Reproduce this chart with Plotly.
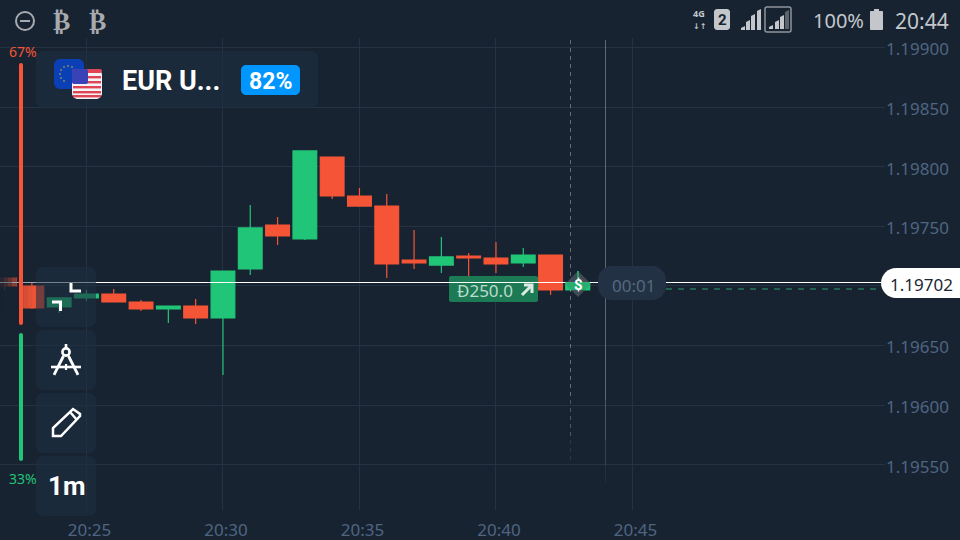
import plotly.graph_objects as go

# ---------- data ----------
times = ["20:22","20:23","20:24","20:25","20:26","20:27","20:28","20:29","20:30","20:31","20:32",
         "20:33","20:34","20:35","20:36","20:37","20:38","20:39","20:40","20:41","20:42","20:43"]
opens  = [1.197066,1.196999,1.196823,1.196899,1.196932,1.196865,1.196806,1.196831,1.196731,1.197142,1.197511,
          1.197394,1.198081,1.197754,1.197670,1.197217,1.197175,1.197251,1.197234,1.197192,1.197259,1.196966]
highs  = [1.197066,1.197025,1.196823,1.196966,1.196974,1.196882,1.196806,1.196890,1.197125,1.197679,1.197578,
          1.198132,1.198081,1.197821,1.197771,1.197469,1.197410,1.197276,1.197368,1.197318,1.197259,1.197125]
lows   = [1.196966,1.196806,1.196773,1.196873,1.196865,1.196790,1.196689,1.196680,1.196253,1.197091,1.197343,
          1.197385,1.197729,1.197670,1.197066,1.197142,1.197108,1.197050,1.197108,1.197159,1.196924,1.196950]
closes = [1.196999,1.196815,1.196899,1.196932,1.196865,1.196806,1.196831,1.196731,1.197125,1.197486,1.197419,
          1.198132,1.197754,1.197670,1.197184,1.197192,1.197243,1.197234,1.197184,1.197259,1.196966,1.197025]
price_ticks = [1.19900,1.19850,1.19800,1.19750,1.19700,1.19650,1.19600,1.19550]
time_ticks = ["20:25","20:30","20:35","20:40","20:45"]
current_price = 1.19702
sentiment = ["67%","33%"]

# ---------- style ----------
BG="#182331"; GRID="#243241"; PANEL="rgba(30,46,65,0.6)"
RED="#f55536"; GREEN="#20c577"; AXIS="#4f6582"; WHITE="#ffffff"; STATUS="#c3c7cc"; ICON="#a6aaaf"
PW=885; T=38; B=510; DATE="2021-01-01 "
def X(x): return x/PW
def Y(y): return (B-y)/(B-T)
def P(*pts, close=False):
    s="M "+" L ".join(f"{X(a):.5f} {Y(b):.5f}" for a,b in pts)
    return s+(" Z" if close else "")
shapes=[]; notes=[]
def rect(x0,y0,x1,y1,fill,r=0,outline=None,ow=0):
    ln=dict(color=outline or "rgba(0,0,0,0)",width=ow)
    if r:
        k=r*0.45
        d=(f"M {X(x0+r):.5f} {Y(y0):.5f} L {X(x1-r):.5f} {Y(y0):.5f} "
           f"C {X(x1-k):.5f} {Y(y0):.5f} {X(x1):.5f} {Y(y0+k):.5f} {X(x1):.5f} {Y(y0+r):.5f} "
           f"L {X(x1):.5f} {Y(y1-r):.5f} C {X(x1):.5f} {Y(y1-k):.5f} {X(x1-k):.5f} {Y(y1):.5f} {X(x1-r):.5f} {Y(y1):.5f} "
           f"L {X(x0+r):.5f} {Y(y1):.5f} C {X(x0+k):.5f} {Y(y1):.5f} {X(x0):.5f} {Y(y1-k):.5f} {X(x0):.5f} {Y(y1-r):.5f} "
           f"L {X(x0):.5f} {Y(y0+r):.5f} C {X(x0):.5f} {Y(y0+k):.5f} {X(x0+k):.5f} {Y(y0):.5f} {X(x0+r):.5f} {Y(y0):.5f} Z")
        shapes.append(dict(type="path",path=d,xref="paper",yref="paper",fillcolor=fill,line=ln))
    else:
        shapes.append(dict(type="rect",x0=X(x0),x1=X(x1),y0=Y(y0),y1=Y(y1),xref="paper",yref="paper",fillcolor=fill,line=ln))
def line(pts,color,w=1,dash=None,fill=None,close=False):
    shapes.append(dict(type="path",path=P(*pts,close=close),xref="paper",yref="paper",
                       line=dict(color=color,width=w,dash=dash or "solid"),fillcolor=fill or "rgba(0,0,0,0)"))
def circ(cx,cy,r,fill=None,color=None,w=0):
    shapes.append(dict(type="circle",x0=X(cx-r),x1=X(cx+r),y0=Y(cy-r),y1=Y(cy+r),xref="paper",yref="paper",
                       fillcolor=fill or "rgba(0,0,0,0)",line=dict(color=color or "rgba(0,0,0,0)",width=w)))
def text(x,y,s,size,color,anchor="center",font="Noto Sans",bold=False):
    notes.append(dict(x=X(x),y=Y(y),xref="paper",yref="paper",text=f"<b>{s}</b>" if bold else s,showarrow=False,
                      xanchor=anchor,yanchor="middle",font=dict(size=size,color=color,family=font),borderpad=0))

# fade over the oldest candles
for a,op in [(0,.92),(4,.8),(8,.66),(12,.48),(16,.35),(20,.22),(24,.14),(28,.08),(32,.04)]:
    rect(a,272,a+4,312,f"rgba(24,35,49,{op})")
# price line
line([(0,282.5),(881,282.5)],WHITE,1.1)
# dashed trade level
line([(666,289),(880,289)],"#2a9c70",1,"6px,6px")
# vertical lines, fading at the bottom
for (a,b,op) in [(40,400,.42),(400,440,.3),(440,462,.12)]:
    line([(570.5,a),(570.5,b)],f"rgba(200,210,220,{op})",1,"4px,4px")
for (a,b,op) in [(40,400,.4),(400,440,.3),(440,465,.18),(465,482,.07)]:
    line([(605.5,a),(605.5,b)],f"rgba(200,210,220,{op})",1)
# left fade on white line
for a,b,op in [(0,12,.6),(12,36,.4)]:
    line([(a,282.5),(b,282.5)],f"rgba(24,35,49,{op})",1.5)
# tool panels
for y0 in (267,330,393,456):
    rect(36,y0,96,y0+60,PANEL,7)
# header
rect(36,51,318,108,PANEL,7)
rect(241,65,300,95,"#0096ff",5)
text(121,81,"EUR U...",27,WHITE,"left","Roboto",True)
text(270,81,"82%",23,WHITE,"center","Roboto",True)
# flags
rect(54,59,84,89,"#0b3fb5",6)
for dx,dy in [(0,-8),(4,-7),(7,-4),(8,0),(7,4),(-4,-7),(-7,-4),(-8,0),(-7,4),(-4,7)]:
    circ(68+dx,74+dy,.8,"#d8bf3a")
rect(72,69,102,99,"#f4f4f6",6)
rect(72,69,102,73,"#e04555",2)
for y in (76,81,86,91,95):
    rect(73,y,101,y+2.4,"#e04555")
rect(72,69,88,84,"#3a42b8",2)
# sentiment
rect(19,63,23,325,RED,2); rect(19,333,23,461,GREEN,2)
text(23,51,sentiment[0],14,RED); text(23,478,sentiment[1],14,GREEN)
# trade tag
rect(449,276,538,302,"#1c7a55",2)
text(485,290,"Đ250.0",17,"#bcdccd")
line([(522,295),(532,285)],"#dcebe4",3); line([(524,285),(532,285),(532,293)],"#dcebe4",3)
line([(449,282.5),(538,282.5)],WHITE,1.1)
# timer
rect(598,266,666,300,"#223244",14)
text(633,285,"00:01",17,"#54697f")
# marker
line([(578,271),(591,284),(578,297),(565,284)],"rgba(70,84,92,0)",0,fill="rgba(70,84,92,.85)",close=True)
rect(565,282,590,290,"rgba(32,197,119,.75)")
line([(578,271),(578,282)],GREEN,1.2)
text(578,285,"$",15,WHITE,"center","Roboto",True)
# price pill
rect(881,268,975,298,WHITE,15)
text(921,284,"1.19702",17,"#1b2735")
# tool icons
line([(71,283),(71,291),(81,291)],WHITE,3)
line([(52,302),(60.5,302),(60.5,311)],WHITE,3)
circ(66,352,3.6,None,WHITE,2.6)
line([(66,344),(66,348)],WHITE,2.6)
line([(63.5,356),(54,375)],WHITE,2.8); line([(68.5,356),(78,375)],WHITE,2.8)
line([(51,367),(81,367)],WHITE,2.6); line([(66,364),(66,370)],WHITE,2.2)
line([(53,436),(53,428),(73,409),(80,414),(80,416),(61,436)],WHITE,2.5,close=True)
line([(70,412),(77,420)],WHITE,2.5)
text(66,486,"1m",26,WHITE,"center","Roboto",True)
# status bar
circ(25,21,9,None,ICON,2); line([(20,21),(30,21)],ICON,2)
text(61,21,"₿",26,ICON,"center","DejaVu Sans",True)
text(97,21,"₿",26,ICON,"center","DejaVu Sans",True)
text(699,13,"4G",9,STATUS,"center","Noto Sans",True)
text(699,26,"↓↑",8,STATUS,"center","DejaVu Sans",True)
rect(714,9,730,30,STATUS,3)
text(722,20,"2",15,BG,"center","Roboto",True)
for x,h0,h1 in [(741,26,30),(746,20,30),(751,14,30),(757,9,30)]:
    line([(x,h0+2),(x+4,h0),(x+4,h1),(x,h1)],STATUS,0,fill=STATUS,close=True)
rect(765,7,791,32,"rgba(0,0,0,0)",2,"#8d949b",1.5)
for x,h0,c in [(769,25,STATUS),(775,20,STATUS),(780,15,STATUS),(785,10,"#5c646c")]:
    line([(x,h0+2),(x+4,h0),(x+4,29),(x,29)],c,0,fill=c,close=True)
text(838,21,"100%",20,STATUS)
rect(870,11,883,30,STATUS,1); rect(874,9,879,12,STATUS)
text(922,21,"20:44",21,STATUS)

# ---------- figure ----------
PER_PX=0.0005/59.6
y_top=1.199+(47.5-T)*PER_PX; y_bot=1.199-(B-47.5)*PER_PX
fig=go.Figure(go.Candlestick(
    x=[DATE+t for t in times],open=opens,high=highs,low=lows,close=closes,
    increasing=dict(line=dict(color=GREEN,width=1.2),fillcolor=GREEN),
    decreasing=dict(line=dict(color=RED,width=1.2),fillcolor=RED),
    whiskerwidth=0,showlegend=False,hoverinfo="skip"))
fig.update_layout(
    width=960,height=540,autosize=False,paper_bgcolor=BG,plot_bgcolor=BG,boxgap=0.13,boxgroupgap=0,
    margin=dict(l=0,r=75,t=T,b=540-B),showlegend=False,shapes=shapes,annotations=notes,
    xaxis=dict(type="date",range=[DATE+"20:21:50",DATE+"20:54:15"],rangeslider=dict(visible=False),
               tickmode="array",tickvals=[DATE+t for t in time_ticks],ticktext=time_ticks,
               tickfont=dict(family="Noto Sans",size=17,color=AXIS),showgrid=True,gridcolor=GRID,gridwidth=1,
               zeroline=False,showline=False,ticks="",ticklabelshift=3,ticklabelstandoff=8),
    yaxis=dict(side="right",range=[y_bot,y_top],tickmode="array",tickvals=price_ticks,
               ticktext=["" if abs(v-current_price)<1e-4 else f"{v:.5f}" for v in price_ticks],
               tickfont=dict(family="Noto Sans",size=17,color=AXIS),ticklabelshift=2,
               showgrid=True,gridcolor=GRID,gridwidth=1,zeroline=False,showline=False,ticks="",ticklabelstandoff=0),
)
fig.write_html("out.html",config=dict(displayModeBar=False),
               post_script="document.body.style.margin='0';document.body.style.background='#182331';document.body.style.overflow='hidden';")
